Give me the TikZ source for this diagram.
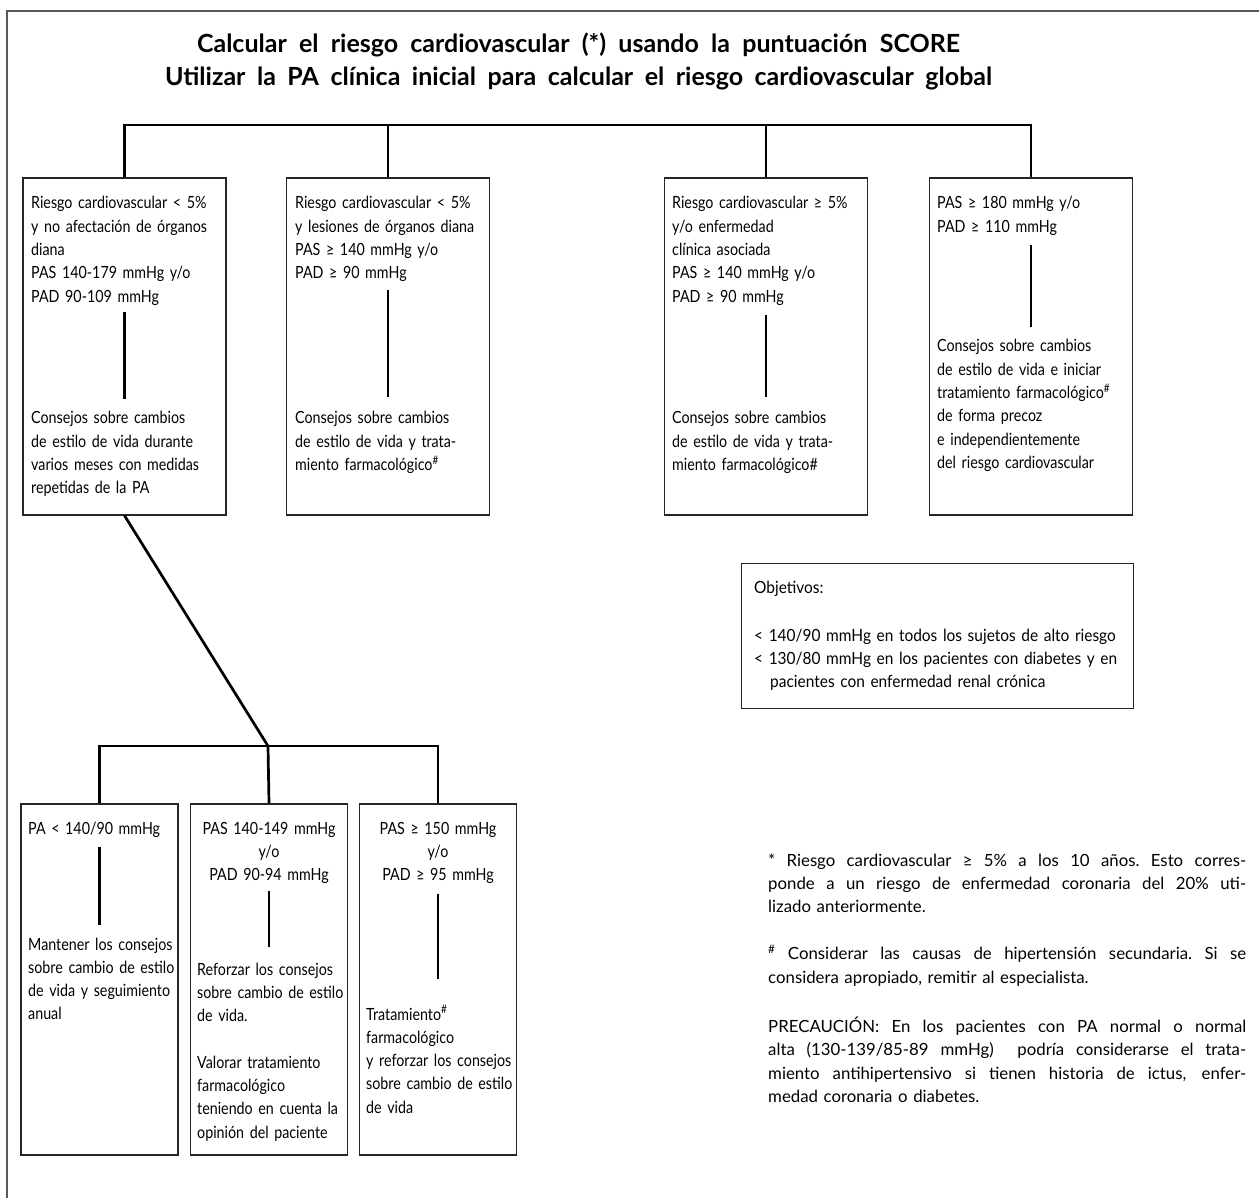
\documentclass[tikz,border=0pt]{standalone}
\usepackage{fontspec}
\setmainfont{Lato}[FakeStretch=0.85]
\newfontfamily\titulofont{Lato}
\newfontfamily\objfont{Lato}[FakeStretch=0.92]
\newfontfamily\notafont{Lato}
\newcommand\jl[1]{\leavevmode\hbox to 478pt{\spaceskip=.22em plus 1fil\xspaceskip=.22em plus 1fil\relax #1}}
\newcommand\tl[2]{\leavevmode\hbox to #1{\spaceskip=.22em plus 1fil\xspaceskip=.22em plus 1fil\relax #2}}
\begin{document}
\begin{tikzpicture}[x=1pt,y=-1pt,
    caja/.style={draw=black!85,line width=1.2pt,inner sep=0pt,minimum width=203pt,minimum height=337pt},
    cajab/.style={draw=black!85,line width=1.2pt,inner sep=0pt,minimum width=157pt,minimum height=351pt},
    txt/.style={inner sep=0pt,anchor=base west,align=left,text width=#1,font=\fontsize{16.8}{23.3}\selectfont},
    txtc/.style={inner sep=0pt,anchor=base,align=center,text width=200pt,font=\fontsize{16.8}{23.3}\selectfont},
    lin/.style={line width=2.7pt}]
	\useasboundingbox (0,0) rectangle (1259,1198);
	\draw[black!65,line width=1.3pt] (7,1198) -- (7,11) -- (1259,11);
	\node[inner sep=0pt,anchor=base,align=center,text width=1000pt,font=\titulofont\bfseries\fontsize{25}{33}\selectfont] (titulo) at (578.5,53)
		{\tl{763pt}{Calcular el riesgo cardiovascular (*) usando la puntuación SCORE}\\
		 \tl{827pt}{Utilizar la PA clínica inicial para calcular el riesgo cardiovascular global}};
	\coordinate (bus) at (578.5,125);
	\node[caja] (r1) at (124.5,346.5) {};
	\node[caja] (r2) at (388,346.5) {};
	\node[caja] (r3) at (766,346.5) {};
	\node[caja] (r4) at (1031,346.5) {};
	\draw[lin] (r1.north) -- (r1.north |- bus) -- (r4.north |- bus) -- (r4.north);
	\draw[lin] (r2.north) -- (r2.north |- bus);
	\draw[lin] (r3.north) -- (r3.north |- bus);
	\node[txt=240pt] (r1a) at (31,209) {Riesgo cardiovascular < 5\%\\ y no afectación de órganos\\ diana\\ PAS 140-179 mmHg y/o\\ PAD 90-109 mmHg};
	\node[txt=240pt] (r1b) at (31,424) {Consejos sobre cambios\\ de estilo de vida durante\\ varios meses con medidas\\ repetidas de la PA};
	\node[txt=240pt] (r2a) at (295,209) {Riesgo cardiovascular < 5\%\\ y lesiones de órganos diana\\ PAS ≥ 140 mmHg y/o\\ PAD ≥ 90 mmHg};
	\node[txt=240pt] (r2b) at (295,424) {Consejos sobre cambios\\ de estilo de vida y trata-\\ miento farmacológico\textsuperscript{\#}};
	\node[txt=240pt] (r3a) at (672,209) {Riesgo cardiovascular ≥ 5\%\\ y/o enfermedad\\ clínica asociada\\ PAS ≥ 140 mmHg y/o\\ PAD ≥ 90 mmHg};
	\node[txt=240pt] (r3b) at (672,424) {Consejos sobre cambios\\ de estilo de vida y trata-\\ miento farmacológico\#};
	\node[txt=240pt] (r4a) at (937,209) {PAS ≥ 180 mmHg y/o\\ PAD ≥ 110 mmHg};
	\node[txt=240pt] (r4b) at (937,352) {Consejos sobre cambios\\ de estilo de vida e iniciar\\ tratamiento farmacológico\textsuperscript{\#}\\ de forma precoz\\ e independientemente\\ del riesgo cardiovascular};
	\draw[lin,shorten <=6.5pt,shorten >=12.5pt] (r1a.south -| r1.north) -- (r1b.north -| r1.north);
	\draw[lin,shorten <=7.5pt,shorten >=14.5pt] (r2a.south -| r2.north) -- (r2b.north -| r2.north);
	\draw[lin,shorten <=9.5pt,shorten >=14.5pt] (r3a.south -| r3.north) -- (r3b.north -| r3.north);
	\draw[lin,shorten <=9.5pt,shorten >=12.5pt] (r4a.south -| r4.north) -- (r4b.north -| r4.north);
	\coordinate (nudo) at (268,746);
	\node[cajab] (ca) at (99.5,979.5) {};
	\node[cajab] (cb) at (269,979.5) {};
	\node[cajab] (cc) at (438,979.5) {};
	\draw[lin] (r1.south) -- (nudo);
	\draw[lin] (ca.north) -- (ca.north |- nudo) -- (cc.north |- nudo) -- (cc.north);
	\draw[lin] (nudo) -- (cb.north);
	\node[txt=200pt] (caa) at (28,834) {PA < 140/90 mmHg};
	\node[txt=200pt] (cab) at (28,950) {Mantener los consejos\\ sobre cambio de estilo\\ de vida y seguimiento\\ anual};
	\node[txtc] (cba) at (269,834) {PAS 140-149 mmHg\\ y/o\\ PAD 90-94 mmHg};
	\node[txt=200pt] (cbb) at (197,975) {Reforzar los consejos\\ sobre cambio de estilo\\ de vida.\\[23.3pt] Valorar tratamiento\\ farmacológico\\ teniendo en cuenta la\\ opinión del paciente};
	\node[txtc] (cca) at (438,834) {PAS ≥ 150 mmHg\\ y/o\\ PAD ≥ 95 mmHg};
	\node[txt=200pt] (ccb) at (366,1020) {Tratamiento\textsuperscript{\#}\\ farmacológico\\ y reforzar los consejos\\ sobre cambio de estilo\\ de vida};
	\draw[lin,shorten <=9.7pt,shorten >=12.7pt] (caa.south -| ca.north) -- (cab.north -| ca.north);
	\draw[lin,shorten <=6.7pt,shorten >=15.7pt] (cba.south) -- (cbb.north -| cb.north);
	\draw[lin,shorten <=9.7pt,shorten >=25.7pt] (cca.south) -- (ccb.north -| cc.north);
	\node[draw=black!85,line width=1.2pt,inner sep=0pt,anchor=north west,minimum width=392pt,minimum height=145pt] (obj) at (741,563) {};
	\node[txt=420pt,font=\objfont\fontsize{16.8}{23.3}\selectfont] (objt) at (754,593) {Objetivos:\\[25pt] < 140/90 mmHg en todos los sujetos de alto riesgo\\ < 130/80 mmHg en los pacientes con diabetes y en\\ \hspace*{16pt}pacientes con enfermedad renal crónica};
	\node[txt=478pt,font=\notafont\fontsize{16.8}{23.3}\selectfont] (notas) at (768,866) {\jl{* Riesgo cardiovascular ≥ 5\% a los 10 años. Esto corres-}\\
		\jl{ponde a un riesgo de enfermedad coronaria del 20\% uti-}\\
		lizado anteriormente.\\[24pt]
		\jl{\textsuperscript{\#} Considerar las causas de hipertensión secundaria. Si se}\\
		considera apropiado, remitir al especialista.\\[26pt]
		\jl{PRECAUCIÓN: En los pacientes con PA normal o normal}\\
		\jl{alta (130-139/85-89 mmHg)\ \ podría considerarse el trata-}\\
		\jl{miento antihipertensivo si tienen historia de ictus, enfer-}\\
		medad coronaria o diabetes.};
\end{tikzpicture}
\end{document}
